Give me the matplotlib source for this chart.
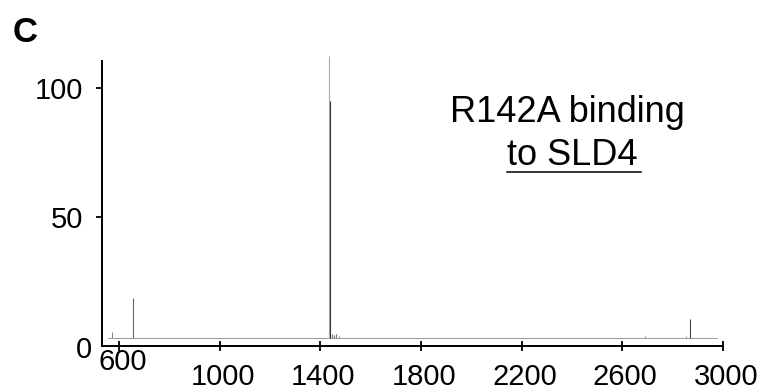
import matplotlib
matplotlib.use('Agg')
import matplotlib.pyplot as plt
from matplotlib.transforms import ScaledTranslation
from matplotlib.lines import Line2D

plt.rcParams['font.family'] = ['Liberation Sans', 'DejaVu Sans']

# spectrum (m/z, relative intensity)
baseline_mz = [555, 2977]
baseline_level = 3.2
peak_mz = [570, 655, 1435, 1436, 1447, 1455, 1463, 1472, 2692, 2855, 2869]
peak_int = [5.5, 18.6, 112.4, 95.0, 4.6, 4.3, 4.5, 3.9, 4.0, 4.0, 10.3]
peak_col = ['#888', '#666', '#aaa', '#333', '#777', '#777', '#777', '#888', '#999', '#999', '#444']

xticks = [600, 1000, 1400, 1800, 2200, 2600, 3000]
yticks = [50, 100]

fig = plt.figure(figsize=(7.65, 3.92), dpi=100)
W, H = 765, 392
ax = fig.add_axes([102 / W, 1 - 346 / H, (722.7 - 102) / W, (346 - 56) / H])

ax.plot(baseline_mz, [baseline_level] * 2, color='#9a9a9a', lw=0.7)
ax.vlines(peak_mz, baseline_level, peak_int, colors=peak_col, lw=0.8)

ax.set_xlim(531, 3000)
ax.set_ylim(0, 112.4)
for s in ['top', 'right']:
    ax.spines[s].set_visible(False)
ax.spines['left'].set_bounds(0, 110.5)
ax.spines['left'].set_linewidth(1.4)
ax.spines['bottom'].set_linewidth(1.4)

ax.set_xticks(xticks)
ax.set_xticklabels([str(v) for v in xticks])
ax.set_yticks(yticks)
ax.set_yticklabels([str(v) for v in yticks])
ax.tick_params(axis='x', direction='inout', length=7, width=1.3, labelsize=21, pad=9)
ax.tick_params(axis='y', direction='out', length=4.5, width=1.3, labelsize=21, pad=9)

# labels sit a little right of the ticks, 600 is raised
for lbl in ax.get_xticklabels():
    dy = 15 / 100 if lbl.get_text() == '600' else 0
    lbl.set_transform(lbl.get_transform() + ScaledTranslation(3 / 100, dy, fig.dpi_scale_trans))

ax.annotate('0', xy=(0, 0), xycoords=('axes fraction', 'data'),
            xytext=(-7.5, -3), textcoords='offset points',
            ha='right', va='center', fontsize=21, annotation_clip=False)

fig.text(13 / W, 1 - 42 / H, 'C', fontsize=25, fontweight='bold', ha='left', va='baseline')

fig.text(567 / W, 1 - 122 / H, 'R142A binding', fontsize=26, ha='center', va='baseline')
fig.text(572 / W, 1 - 165 / H, 'to SLD4', fontsize=26, ha='center', va='baseline')
fig.add_artist(Line2D([507 / W, 641 / W], [1 - 172 / H] * 2, color='black', lw=1.1,
                      transform=fig.transFigure))

fig.savefig('out.png', dpi=100)
